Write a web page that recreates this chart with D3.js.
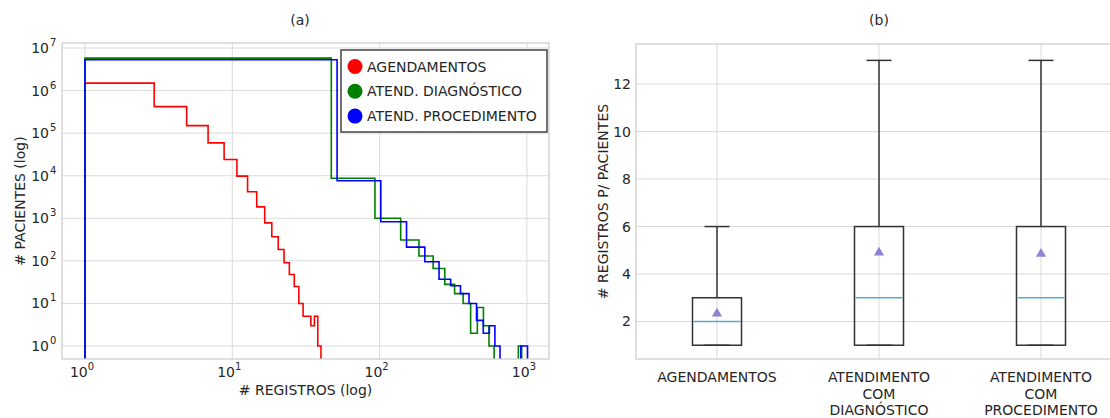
<!DOCTYPE html>
<html>
<head>
<meta charset="utf-8">
<script src="https://cdn.jsdelivr.net/npm/d3@7"></script>
<style>
  body { margin: 0; background: #ffffff; }
  svg text { font-family: "DejaVu Sans", sans-serif; fill: #262626; }
</style>
</head>
<body>
<svg id="chart" width="1110" height="418"></svg>
<script>
// panel (a) histogram data
const N_BINS = 20;
const SERIES_NAMES = ["AGENDAMENTOS", "ATEND. DIAGNÓSTICO", "ATEND. PROCEDIMENTO"];
const SERIES_COLORS = ["#ff0000", "#008000", "#0000ff"];
const agendRange = [1, 40];
const diagRange = [1, 921];
const procRange = [1, 1010];
const agendCounts = [1.5e6, 4.2e5, 1.5e5, 5.9e4, 2.4e4, 9800, 4200, 1860, 780, 370, 185, 90, 48, 25, 10, 5, 5, 3, 5, 1];
const diagCounts = [5.8e6, 8700, 1000, 310, 130, 66, 28, 17, 10, 2, 8, 3, 1, 0, 0, 0, 0, 0, 0, 1];
const procCounts = [5.3e6, 7600, 830, 210, 95, 37, 26, 17, 10, 4, 2, 3, 1, 0, 0, 0, 0, 0, 1, 1];
const xTicksA = [0, 1, 2, 3];
const yTicksA = [0, 1, 2, 3, 4, 5, 6, 7];

// panel (b) boxplot data
const boxLabels = [["AGENDAMENTOS"], ["ATENDIMENTO", "COM", "DIAGNÓSTICO"], ["ATENDIMENTO", "COM", "PROCEDIMENTO"]];
const boxWhiskerLow = [1, 1, 1];
const boxQ1 = [1, 1, 1];
const boxMedian = [2, 3, 3];
const boxQ3 = [3, 6, 6];
const boxWhiskerHigh = [6, 13, 13];
const boxMean = [2.33, 4.9, 4.85];
const yTicksB = [2, 4, 6, 8, 10, 12];

const GRID = "#dadada";
const FRAME = "#cccccc";

const svg = d3.select("#chart");

// bin edges like bins=20
function binEdges(range) {
  const w = (range[1] - range[0]) / N_BINS;
  return d3.range(N_BINS + 1).map((i) => range[0] + i * w);
}

// step outline of a histogram
function stepPoints(range, counts, floor) {
  const edges = binEdges(range);
  const pts = [[edges[0], floor]];
  counts.forEach((c, i) => {
    const v = c > 0 ? c : floor;
    pts.push([edges[i], v]);
    pts.push([edges[i + 1], v]);
  });
  pts.push([edges[N_BINS], floor]);
  return pts;
}

function powerLabel(sel, exp) {
  sel.text("10");
  sel.append("tspan").attr("font-size", 10).attr("dy", -7).text(exp);
}

function histogramPanel() {
  const left = 62, right = 549, top = 43, bottom = 359;
  const x = d3.scaleLog().domain([Math.pow(10, -0.156), Math.pow(10, 3.15)]).range([left, right]);
  const y = d3.scaleLog().domain([Math.pow(10, -0.305), Math.pow(10, 7.118)]).range([bottom, top]);

  const g = svg.append("g");

  // grid
  g.selectAll(".gx").data(xTicksA).enter().append("line")
    .attr("x1", (d) => x(Math.pow(10, d))).attr("x2", (d) => x(Math.pow(10, d)))
    .attr("y1", top).attr("y2", bottom)
    .attr("stroke", GRID).attr("stroke-width", 1);
  g.selectAll(".gy").data(yTicksA).enter().append("line")
    .attr("x1", left).attr("x2", right)
    .attr("y1", (d) => y(Math.pow(10, d))).attr("y2", (d) => y(Math.pow(10, d)))
    .attr("stroke", GRID).attr("stroke-width", 1);

  // clip
  svg.append("clipPath").attr("id", "clip-a").append("rect")
    .attr("x", left).attr("y", top).attr("width", right - left).attr("height", bottom - top);

  const line = d3.line().x((d) => x(d[0])).y((d) => y(d[1]));
  const floor = 1e-3;
  const series = [
    stepPoints(agendRange, agendCounts, floor),
    stepPoints(diagRange, diagCounts, floor),
    stepPoints(procRange, procCounts, floor),
  ];
  g.append("g").attr("clip-path", "url(#clip-a)")
    .selectAll("path").data(series).enter().append("path")
    .attr("d", line)
    .attr("fill", "none")
    .attr("stroke", (d, i) => SERIES_COLORS[i])
    .attr("stroke-width", 1.6);

  // frame
  g.append("rect").attr("x", left).attr("y", top)
    .attr("width", right - left).attr("height", bottom - top)
    .attr("fill", "none").attr("stroke", FRAME).attr("stroke-width", 1.25);

  // tick labels
  g.selectAll(".tx").data(xTicksA).enter().append("text")
    .attr("x", (d) => x(Math.pow(10, d)) - 3).attr("y", 377)
    .attr("text-anchor", "middle").attr("font-size", 14)
    .each(function (d) { powerLabel(d3.select(this), d); });
  g.selectAll(".ty").data(yTicksA).enter().append("text")
    .attr("x", 49).attr("y", (d) => y(Math.pow(10, d)) + 5)
    .attr("text-anchor", "end").attr("font-size", 14)
    .each(function (d) {
      d3.select(this).text("10");
      d3.select(this.parentNode).append("text")
        .attr("x", 50).attr("y", y(Math.pow(10, d)) - 2)
        .attr("font-size", 10).text(d);
    });

  // labels
  svg.append("text").attr("x", 300).attr("y", 25).attr("text-anchor", "middle")
    .attr("font-size", 14).text("(a)");
  svg.append("text").attr("x", (left + right) / 2).attr("y", 395).attr("text-anchor", "middle")
    .attr("font-size", 14).text("# REGISTROS (log)");
  svg.append("text").attr("transform", `translate(25, ${(top + bottom) / 2}) rotate(-90)`)
    .attr("text-anchor", "middle").attr("font-size", 14).text("# PACIENTES (log)");

  // legend
  const lg = svg.append("g").attr("transform", "translate(341, 50)");
  lg.append("rect").attr("width", 206).attr("height", 82)
    .attr("fill", "#ffffff").attr("stroke", "#444444").attr("stroke-width", 1.5);
  SERIES_NAMES.forEach((name, i) => {
    lg.append("circle").attr("cx", 14).attr("cy", 16.5 + i * 24.8).attr("r", 7.5)
      .attr("fill", SERIES_COLORS[i]);
    lg.append("text").attr("x", 26).attr("y", 21.5 + i * 24.8)
      .attr("font-size", 14).text(name);
  });
}

function boxplotPanel() {
  const left = 636, right = 1122, top = 44, bottom = 359;
  const x = d3.scaleLinear().domain([0.5, 3.5]).range([left, right]);
  const y = d3.scaleLinear().domain([0.42, 13.69]).range([bottom, top]);
  const pos = boxLabels.map((d, i) => i + 1);
  const boxW = 49, capW = 25;

  const g = svg.append("g");

  // grid
  g.selectAll(".gx").data(pos).enter().append("line")
    .attr("x1", (d) => x(d)).attr("x2", (d) => x(d)).attr("y1", top).attr("y2", bottom)
    .attr("stroke", GRID).attr("stroke-width", 1);
  g.selectAll(".gy").data(yTicksB).enter().append("line")
    .attr("x1", left).attr("x2", right).attr("y1", (d) => y(d)).attr("y2", (d) => y(d))
    .attr("stroke", GRID).attr("stroke-width", 1);

  g.append("rect").attr("x", left).attr("y", top)
    .attr("width", right - left).attr("height", bottom - top)
    .attr("fill", "none").attr("stroke", FRAME).attr("stroke-width", 1.25);

  // boxes
  pos.forEach((p, i) => {
    const cx = x(p);
    const ink = "#333333";
    g.append("line").attr("x1", cx).attr("x2", cx)
      .attr("y1", y(boxQ3[i])).attr("y2", y(boxWhiskerHigh[i]))
      .attr("stroke", ink).attr("stroke-width", 1.5);
    g.append("line").attr("x1", cx).attr("x2", cx)
      .attr("y1", y(boxQ1[i])).attr("y2", y(boxWhiskerLow[i]))
      .attr("stroke", ink).attr("stroke-width", 1.5);
    [boxWhiskerHigh[i], boxWhiskerLow[i]].forEach((v) => {
      g.append("line").attr("x1", cx - capW / 2).attr("x2", cx + capW / 2)
        .attr("y1", y(v)).attr("y2", y(v))
        .attr("stroke", ink).attr("stroke-width", 1.5);
    });
    g.append("rect").attr("x", cx - boxW / 2).attr("y", y(boxQ3[i]))
      .attr("width", boxW).attr("height", y(boxQ1[i]) - y(boxQ3[i]))
      .attr("fill", "none").attr("stroke", ink).attr("stroke-width", 1.5);
    g.append("line").attr("x1", cx - boxW / 2 + 1).attr("x2", cx + boxW / 2 - 1)
      .attr("y1", y(boxMedian[i])).attr("y2", y(boxMedian[i]))
      .attr("stroke", "#5aa9cf").attr("stroke-width", 1.5);
    g.append("path").attr("d", d3.symbol(d3.symbolTriangle, 45)())
      .attr("transform", `translate(${cx}, ${y(boxMean[i])})`)
      .attr("fill", "#9282d6");

    // category label
    const t = g.append("text").attr("x", cx).attr("y", 382)
      .attr("text-anchor", "middle").attr("font-size", 14);
    boxLabels[i].forEach((line, j) => {
      t.append("tspan").attr("x", cx).attr("dy", j === 0 ? 0 : 16.6).text(line);
    });
  });

  g.selectAll(".ty").data(yTicksB).enter().append("text")
    .attr("x", 631).attr("y", (d) => y(d) + 5)
    .attr("text-anchor", "end").attr("font-size", 14).text((d) => d);

  svg.append("text").attr("x", 879).attr("y", 25).attr("text-anchor", "middle")
    .attr("font-size", 14).text("(b)");
  svg.append("text").attr("transform", `translate(608, ${(top + bottom) / 2}) rotate(-90)`)
    .attr("text-anchor", "middle").attr("font-size", 14).text("# REGISTROS P/ PACIENTES");
}

histogramPanel();
boxplotPanel();
</script>
</body>
</html>
